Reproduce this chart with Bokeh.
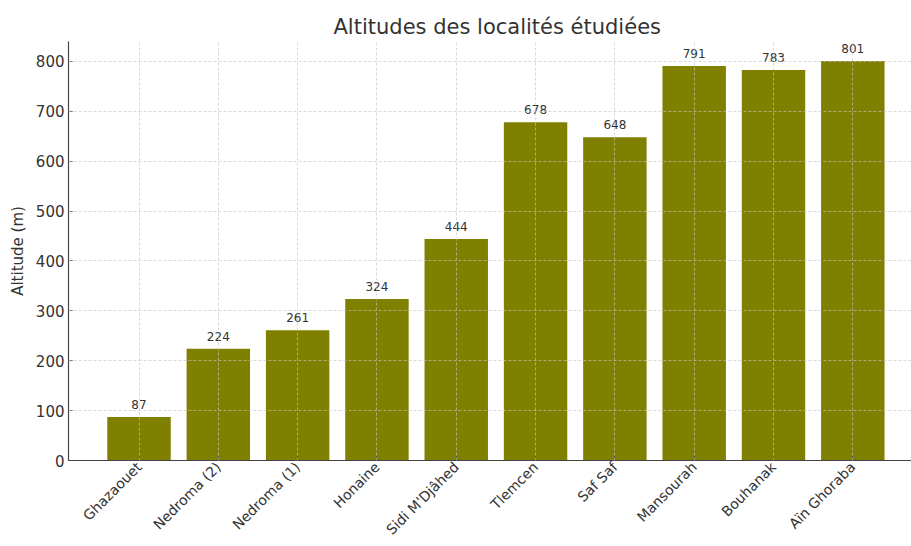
import math
from bokeh.plotting import figure
from bokeh.models import ColumnDataSource, FixedTicker, Range1d, LabelSet
from bokeh.core.properties import value
from bokeh.embed import file_html
from bokeh.resources import INLINE

# Localities and their altitudes (m)
localites = ["Ghazaouet", "Nedroma (2)", "Nedroma (1)", "Honaine", "Sidi M'Djâhed",
             "Tlemcen", "Saf Saf", "Mansourah", "Bouhanak", "Aïn Ghoraba"]
altitudes = [87, 224, 261, 324, 444, 678, 648, 791, 783, 801]

y_ticks = [0, 100, 200, 300, 400, 500, 600, 700, 800]

FONT = "DejaVu Sans"
TEXT = "#333333"
BAR = "#808000"

idx = list(range(len(localites)))
src = ColumnDataSource(dict(
    x=idx,
    top=altitudes,
    lab=[str(v) for v in altitudes],
))

p = figure(
    width=911, height=546,
    output_backend="svg", toolbar_location=None,
    x_range=Range1d(-0.889, 9.74), y_range=Range1d(0, 840),
    min_border_left=68, min_border_right=0, min_border_top=41, min_border_bottom=85,
    title="Altitudes des localités étudiées",
)

p.vbar(x="x", top="top", width=0.8, source=src, color=BAR, line_color=None)

# value above each bar
labels = LabelSet(x="x", y="top", text="lab", source=src, y_offset=8,
                  text_align="center", text_baseline="bottom",
                  text_font=value(FONT), text_font_size="12px", text_color=TEXT)
p.add_layout(labels)

# title
p.title.align = "left"
p.title.offset = 265
p.title.text_font = FONT
p.title.text_font_size = "21px"
p.title.text_font_style = "normal"
p.title.text_color = TEXT
p.title.standoff = 5

# axes
for ax in (p.xaxis[0], p.yaxis[0]):
    ax.axis_line_color = "#444444"
    ax.axis_line_width = 1.2
    ax.major_tick_line_color = "#444444"
    ax.major_tick_in = 4
    ax.major_tick_out = 0
    ax.minor_tick_line_color = None
    ax.major_label_text_font = FONT
    ax.major_label_text_color = TEXT

p.yaxis.ticker = FixedTicker(ticks=y_ticks)
p.yaxis.major_label_text_font_size = "15px"
p.yaxis.axis_label = "Altitude (m)"
p.yaxis.axis_label_text_font = FONT
p.yaxis.axis_label_text_font_size = "15px"
p.yaxis.axis_label_text_font_style = "normal"
p.yaxis.axis_label_text_color = TEXT
p.yaxis.axis_label_standoff = 6
p.yaxis.major_label_standoff = 4

# locality names under the bars, rotated 45°
p.xaxis.ticker = FixedTicker(ticks=idx)
p.xaxis.major_label_overrides = {i: name for i, name in enumerate(localites)}
p.xaxis.major_label_orientation = math.pi / 4
p.xaxis.major_label_text_font_size = "14px"
p.xaxis.major_label_standoff = 4

# grid drawn over the bars
for g in (p.xgrid[0], p.ygrid[0]):
    g.grid_line_color = "#c4c4c4"
    g.grid_line_alpha = 0.8
    g.grid_line_dash = "3 2"
    g.grid_line_width = 0.8
    g.level = "overlay"
p.xgrid.ticker = FixedTicker(ticks=idx)
p.ygrid.ticker = FixedTicker(ticks=y_ticks)

p.outline_line_color = None
p.background_fill_color = "white"
p.border_fill_color = "white"

open("out.html", "w").write(file_html(p, INLINE))
